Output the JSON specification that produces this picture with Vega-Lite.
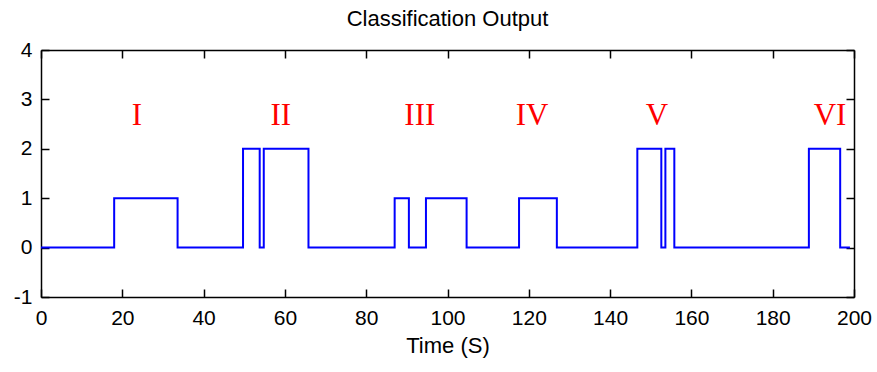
{
  "$schema": "https://vega.github.io/schema/vega-lite/v6.json",
  "width": 813,
  "height": 247,
  "autosize": {"type": "none"},
  "padding": {"left": 41, "top": 50, "right": 23, "bottom": 75},
  "background": "white",
  "title": {"text": "Classification Output", "fontSize": 22, "font": "Liberation Sans", "fontWeight": "normal", "color": "black", "offset": 8},
  "config": {
    "view": {"stroke": null},
    "axis": {
      "domainColor": "black", "domainWidth": 1.5, "tickColor": "black", "tickWidth": 1.5, "tickSize": -8,
      "grid": false, "labelFont": "Liberation Sans", "labelFontSize": 21, "labelColor": "black",
      "titleFont": "Liberation Sans", "titleFontSize": 22, "titleFontWeight": "normal", "titleColor": "black"
    }
  },
  "layer": [
    {
      "data": {"values": [
        {"t": 0, "v": 0}, {"t": 18, "v": 1}, {"t": 33.6, "v": 0}, {"t": 49.7, "v": 2}, {"t": 53.8, "v": 0},
        {"t": 54.8, "v": 2}, {"t": 65.8, "v": 0}, {"t": 87, "v": 1}, {"t": 90.5, "v": 0}, {"t": 94.7, "v": 1},
        {"t": 104.7, "v": 0}, {"t": 117.6, "v": 1}, {"t": 126.9, "v": 0}, {"t": 146.7, "v": 2}, {"t": 152.6, "v": 0},
        {"t": 153.6, "v": 2}, {"t": 155.8, "v": 0}, {"t": 188.9, "v": 2}, {"t": 196.6, "v": 0}, {"t": 199, "v": 0}
      ]},
      "mark": {"type": "line", "interpolate": "step-after", "color": "#0000ff", "strokeWidth": 2},
      "encoding": {
        "x": {"field": "t", "type": "quantitative", "scale": {"domain": [0, 200], "nice": false},
              "axis": {"orient": "bottom", "values": [0, 20, 40, 60, 80, 100, 120, 140, 160, 180, 200], "title": "Time (S)", "labelPadding": 18, "titlePadding": 7, "labelFlush": false}},
        "y": {"field": "v", "type": "quantitative", "scale": {"domain": [-1, 4], "nice": false},
              "axis": {"orient": "left", "values": [-1, 0, 1, 2, 3, 4], "title": null, "labelPadding": 17, "labelFlush": false, "labelExpr": "'' + datum.value"}}
      }
    },
    {
      "data": {"values": [
        {"t": 23.6, "v": 2.49, "label": "I"}, {"t": 59.0, "v": 2.49, "label": "II"}, {"t": 93.2, "v": 2.49, "label": "III"},
        {"t": 120.8, "v": 2.49, "label": "IV"}, {"t": 151.5, "v": 2.49, "label": "V"}, {"t": 194.1, "v": 2.49, "label": "VI"}
      ]},
      "mark": {"type": "text", "font": "Liberation Serif", "fontSize": 31, "color": "#ff0000", "baseline": "alphabetic", "align": "center"},
      "encoding": {
        "x": {"field": "t", "type": "quantitative", "axis": {"orient": "top", "labels": false, "title": null, "values": [0, 20, 40, 60, 80, 100, 120, 140, 160, 180, 200]}},
        "y": {"field": "v", "type": "quantitative", "axis": {"orient": "right", "labels": false, "title": null, "values": [-1, 0, 1, 2, 3, 4]}},
        "text": {"field": "label"}
      }
    }
  ],
  "resolve": {"axis": {"x": "independent", "y": "independent"}}
}
